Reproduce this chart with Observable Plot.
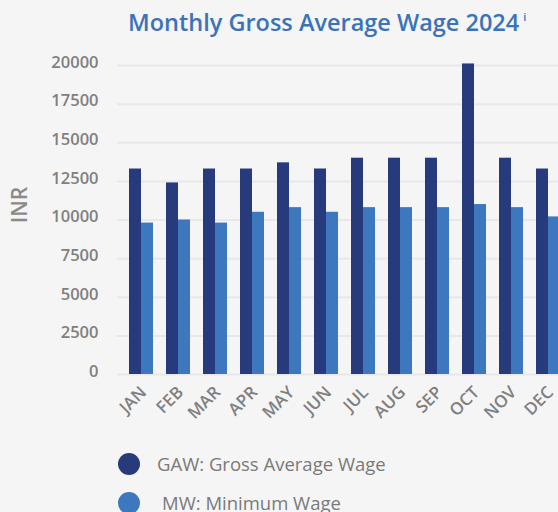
<!DOCTYPE html>
<html><head><meta charset="utf-8">
<script src="https://cdn.jsdelivr.net/npm/d3@7"></script>
<script src="https://cdn.jsdelivr.net/npm/@observablehq/plot@0.6"></script>
<style>
html,body{margin:0;padding:0;background:#f5f5f5;overflow:hidden;width:558px;height:512px;font-family:"Open Sans",sans-serif;}
#wrap{position:relative;width:558px;height:512px;overflow:hidden;}
#title{position:absolute;left:128px;top:6px;white-space:nowrap;font-size:23.5px;font-weight:600;color:#3b73b9;}
#title sup{font-size:11px;font-weight:600;vertical-align:top;position:relative;top:3px;margin-left:4px;}
#chart{position:absolute;left:0;top:50px;}
#ylabel{position:absolute;left:19px;top:205px;transform:translate(-50%,-50%) rotate(-90deg);font-size:21px;font-weight:600;color:#8a8a8a;white-space:nowrap;}
.leg{position:absolute;display:flex;align-items:center;white-space:nowrap;font-size:18.5px;color:#7a7a7a;}
.leg .dot{width:22px;height:22px;border-radius:50%;display:inline-block;}
</style>
</head><body>
<div id="wrap">
  <div id="title">Monthly Gross Average Wage 2024<sup>i</sup></div>
  <div id="chart"></div>
  <div id="ylabel">INR</div>
  <div class="leg" id="leg1" style="left:118px;top:451px;"><span class="dot" style="background:#273a7c"></span><span style="margin-left:17px">GAW: Gross Average Wage</span></div>
  <div class="leg" id="leg2" style="left:118px;top:490px;"><span class="dot" style="background:#3d77bd"></span><span style="margin-left:22px">MW: Minimum Wage</span></div>
</div>
<script>
const months = ["JAN","FEB","MAR","APR","MAY","JUN","JUL","AUG","SEP","OCT","NOV","DEC"];
const gaw = [13300,12400,13300,13300,13700,13300,14000,14000,14000,20100,14000,13300];
const mw = [9800,10000,9800,10500,10800,10500,10800,10800,10800,11000,10800,10200];
const yTicks = [0,2500,5000,7500,10000,12500,15000,17500,20000];

const data = months.map((m,i)=>({month:m, gaw:gaw[i], mw:mw[i]}));

const chart = Plot.plot({
  width: 558,
  height: 380,
  marginLeft: 117,
  marginRight: -10,
  marginTop: 15,
  marginBottom: 56,
  style: {background: "transparent", fontFamily: "'Open Sans', sans-serif", overflow: "visible"},
  x: {domain: months, range: [121, 568], paddingInner: 0.355, paddingOuter: 0.186, label: null, axis: null},
  y: {domain: [0, 20000], label: null, axis: null},
  marks: [
    Plot.ruleY(yTicks, {stroke: "#e8e8e8", strokeWidth: 2}),
    Plot.barY(data, {x: "month", y: "gaw", fill: "#273a7c", insetRight: 12}),
    Plot.barY(data, {x: "month", y: "mw", fill: "#3d77bd", insetLeft: 12}),
    Plot.axisY(yTicks, {tickSize: 0, tickPadding: 19, tickFormat: d => String(d), fill: "#808080", fontSize: 16.5, fontWeight: 600, dy: -3, label: null}),
    Plot.axisX({tickSize: 0, tickPadding: 15, tickRotate: -45, dx: 2, fill: "#808080", fontSize: 17, fontWeight: 600, label: null})
  ]
});
document.getElementById("chart").appendChild(chart);
</script>
</body></html>
